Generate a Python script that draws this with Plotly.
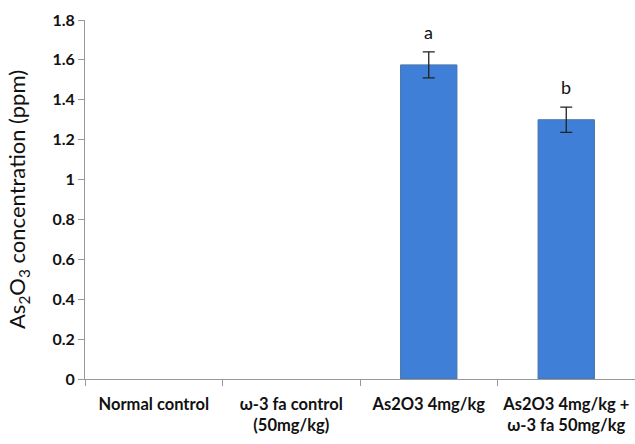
import plotly.graph_objects as go

categories = ["Normal control", "ω-3 fa control<br>(50mg/kg)", "As2O3 4mg/kg", "As2O3 4mg/kg +<br>ω-3 fa 50mg/kg"]
values = [0, 0, 1.575, 1.30]
errors = [None, None, 0.065, 0.063]
letters = ["", "", "a", "b"]
y_ticks = [0, 0.2, 0.4, 0.6, 0.8, 1, 1.2, 1.4, 1.6, 1.8]
y_tick_labels = ["0", "0.2", "0.4", "0.6", "0.8", "1", "1.2", "1.4", "1.6", "1.8"]

font = "Lato, Open Sans, sans-serif"

# zero-valued groups draw no visible bar in the reference
bar_y = [v if v else None for v in values]

fig = go.Figure()
fig.add_trace(go.Bar(
    x=categories, y=bar_y,
    marker=dict(color="#3F7FD7", line=dict(color="#4A75A8", width=1)),
    error_y=dict(type="data", array=errors, visible=True, color="#222222", thickness=1.3, width=6),
    width=0.41,
))

for c, v, e, t in zip(categories, values, errors, letters):
    if t:
        fig.add_annotation(x=c, y=v + e, text=t, showarrow=False, yshift=20,
                           font=dict(family=font, size=18, color="#111111"))

fig.update_layout(
    width=635, height=444,
    margin=dict(l=85, r=0, t=20, b=65),
    paper_bgcolor="white", plot_bgcolor="white",
    showlegend=False,
    font=dict(family=font, color="#111111"),
)
fig.update_xaxes(
    type="category", tickson="boundaries", ticks="outside", ticklen=6, tickcolor="#999999",
    showline=True, linecolor="#999999", linewidth=1, showgrid=False,
    ticklabelstandoff=10,
    tickfont=dict(family=font, size=16.5, color="#111111", weight="bold"),
)
fig.update_yaxes(
    range=[0, 1.8], tickmode="array", tickvals=y_ticks, ticktext=y_tick_labels,
    ticks="outside", ticklen=6, tickcolor="#999999",
    showline=True, linecolor="#999999", linewidth=1, showgrid=False, zeroline=False,
    tickfont=dict(family=font, size=16, color="#111111", weight="bold"),
    title=dict(text="As<sub>2</sub>O<sub>3</sub> concentration (ppm)",
               font=dict(family=font, size=22, color="#111111"), standoff=20),
)

fig.write_html("out.html")
